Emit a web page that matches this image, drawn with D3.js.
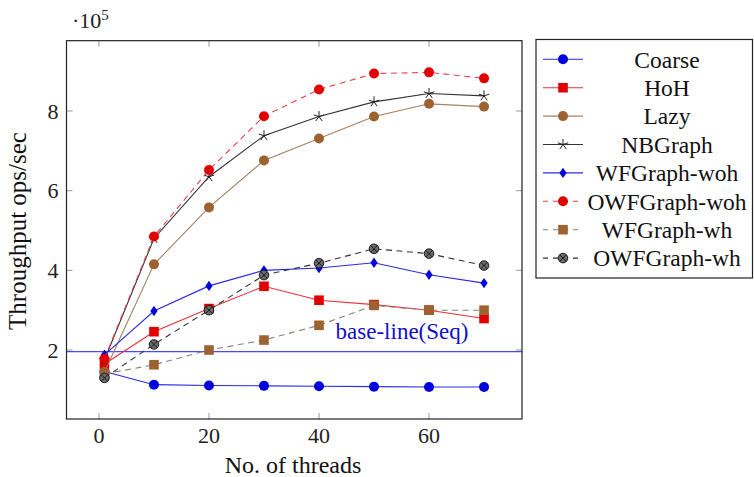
<!DOCTYPE html>
<html>
<head>
<meta charset="utf-8">
<script src="https://cdn.jsdelivr.net/npm/d3@7"></script>
<style>
  body { margin: 0; background: #fff; }
  svg { display: block; font-family: "Liberation Serif", "Times New Roman", serif; }
</style>
</head>
<body>
<svg id="chart" width="754" height="477"></svg>
<script>
// values in units of 1e5 ops/sec
var threads = [1, 10, 20, 30, 40, 50, 60, 70];
var coarse  = [1.46, 1.13, 1.11, 1.10, 1.09, 1.08, 1.07, 1.07];
var hoh     = [1.65, 2.46, 3.04, 3.60, 3.25, 3.14, 3.00, 2.79];
var lazy    = [1.45, 4.15, 5.58, 6.76, 7.31, 7.86, 8.18, 8.11];
var nbgraph = [1.75, 4.80, 6.35, 7.38, 7.86, 8.23, 8.44, 8.38];
var wfWoh   = [1.88, 2.98, 3.61, 4.00, 4.06, 4.19, 3.89, 3.68];
var owfWoh  = [1.78, 4.85, 6.52, 7.87, 8.54, 8.94, 8.97, 8.82];
var wfWh    = [1.40, 1.63, 2.00, 2.25, 2.62, 3.12, 3.00, 3.00];
var owfWh   = [1.30, 2.14, 3.00, 3.88, 4.18, 4.54, 4.42, 4.12];
var seqBaseline = 1.96;
var xTicks = [0, 20, 40, 60];
var yTicks = [2, 4, 6, 8];

(function() {
  var series = [
    { name: 'Coarse',       values: coarse,  color: '#0000dd', line: '#2a2ae8', mark: 'circle' },
    { name: 'HoH',          values: hoh,     color: '#e00000', line: '#e8303a', mark: 'square' },
    { name: 'Lazy',         values: lazy,    color: '#9c6230', line: '#a58260', mark: 'circle' },
    { name: 'NBGraph',      values: nbgraph, color: '#222222', line: '#333333', mark: 'star' },
    { name: 'WFGraph-woh',  values: wfWoh,   color: '#0000dd', line: '#2a2ae8', mark: 'diamond' },
    { name: 'OWFGraph-woh', values: owfWoh,  color: '#e00000', line: '#e8404e', mark: 'circle', dash: '6,4.5' },
    { name: 'WFGraph-wh',   values: wfWh,    color: '#9c6230', line: '#8a7f74', mark: 'square', dash: '6,4.5' },
    { name: 'OWFGraph-wh',  values: owfWh,   color: '#222222', line: '#333333', mark: 'otimes', dash: '6,4.5' }
  ];

  var svg = d3.select('#chart');
  var pLeft = 66.5, pRight = 522, pTop = 40.7, pBottom = 419;

  var x = d3.scaleLinear().domain([-5.9, 76.9]).range([pLeft, pRight]);
  var y = d3.scaleLinear().domain([0.268, 9.765]).range([pBottom, pTop]);

  // ticks (inward, mirrored)
  var tickColor = '#999';
  var g = svg.append('g');
  xTicks.forEach(function(t) {
    g.append('line').attr('x1', x(t)).attr('x2', x(t)).attr('y1', pBottom).attr('y2', pBottom - 6)
      .attr('stroke', tickColor);
    g.append('line').attr('x1', x(t)).attr('x2', x(t)).attr('y1', pTop).attr('y2', pTop + 6)
      .attr('stroke', tickColor);
    g.append('text').attr('x', x(t)).attr('y', pBottom + 24).attr('text-anchor', 'middle')
      .attr('font-size', 22).attr('fill', '#222').text(t);
  });
  yTicks.forEach(function(t) {
    g.append('line').attr('x1', pLeft).attr('x2', pLeft + 6).attr('y1', y(t)).attr('y2', y(t))
      .attr('stroke', tickColor);
    g.append('line').attr('x1', pRight).attr('x2', pRight - 6).attr('y1', y(t)).attr('y2', y(t))
      .attr('stroke', tickColor);
    g.append('text').attr('x', pLeft - 8).attr('y', y(t)).attr('dy', '0.35em').attr('text-anchor', 'end')
      .attr('font-size', 22).attr('fill', '#222').text(t);
  });

  // scale factor label
  var sf = svg.append('text').attr('x', 72).attr('y', 28).attr('font-size', 22).attr('fill', '#222');
  sf.append('tspan').text('\u00b710');
  sf.append('tspan').attr('font-size', 15).attr('dy', -8).text('5');

  // baseline
  svg.append('line')
    .attr('x1', pLeft).attr('x2', pRight)
    .attr('y1', y(seqBaseline)).attr('y2', y(seqBaseline))
    .attr('stroke', '#4848ff').attr('stroke-width', 1.3);
  svg.append('text').attr('x', 402).attr('y', 339).attr('text-anchor', 'middle')
    .attr('font-size', 23).attr('fill', '#1010cc').text('base-line(Seq)');

  function drawMark(sel, type, color) {
    if (type === 'circle') {
      sel.append('circle').attr('r', 5).attr('fill', color);
    } else if (type === 'square') {
      sel.append('rect').attr('x', -4.8).attr('y', -4.8).attr('width', 9.6).attr('height', 9.6).attr('fill', color);
    } else if (type === 'diamond') {
      sel.append('path').attr('d', 'M0,-5.2L3.6,0L0,5.2L-3.6,0Z').attr('fill', color);
    } else if (type === 'star') {
      var d = '';
      for (var i = 0; i < 5; i++) {
        var a = -Math.PI / 2 + i * 2 * Math.PI / 5;
        d += 'M0,0L' + (5.5 * Math.cos(a)).toFixed(2) + ',' + (5.5 * Math.sin(a)).toFixed(2);
      }
      sel.append('path').attr('d', d).attr('stroke', color).attr('stroke-width', 1).attr('fill', 'none');
    } else if (type === 'otimes') {
      sel.append('circle').attr('r', 4.8).attr('fill', '#6a6a6a').attr('stroke', '#111').attr('stroke-width', 0.9);
      sel.append('path').attr('d', 'M-3.3,-3.3L3.3,3.3M-3.3,3.3L3.3,-3.3').attr('stroke', '#111').attr('stroke-width', 0.9);
    }
  }

  var line = d3.line()
    .x(function(d) { return x(d[0]); })
    .y(function(d) { return y(d[1]); });

  series.forEach(function(s) {
    var pts = threads.map(function(t, i) { return [t, s.values[i]]; });
    var sg = svg.append('g');
    sg.append('path')
      .datum(pts)
      .attr('d', line)
      .attr('fill', 'none')
      .attr('stroke', s.line || s.color)
      .attr('stroke-width', 1.1)
      .attr('stroke-dasharray', s.dash || null);
    sg.selectAll('g.mark')
      .data(pts)
      .enter().append('g')
        .attr('class', 'mark')
        .attr('transform', function(d) { return 'translate(' + x(d[0]) + ',' + y(d[1]) + ')'; })
        .each(function() { drawMark(d3.select(this), s.mark, s.color); });
  });

  // frame
  svg.append('rect')
    .attr('x', pLeft).attr('y', pTop).attr('width', pRight - pLeft).attr('height', pBottom - pTop)
    .attr('fill', 'none').attr('stroke', '#222').attr('stroke-width', 1.2);

  // axis labels
  svg.append('text').attr('x', 293).attr('y', 473).attr('text-anchor', 'middle')
    .attr('font-size', 24).attr('fill', '#111').text('No. of threads');
  svg.append('text').attr('transform', 'translate(26,231) rotate(-90)').attr('text-anchor', 'middle')
    .attr('font-size', 25).attr('fill', '#111').text('Throughput ops/sec');

  // legend
  var lg = svg.append('g');
  lg.append('rect').attr('x', 536).attr('y', 39.5).attr('width', 216.5).attr('height', 238.5)
    .attr('fill', '#fff').attr('stroke', '#222').attr('stroke-width', 1.2);
  series.forEach(function(s, i) {
    var ly = 59.3 + i * 28.4;
    var row = lg.append('g');
    row.append('line').attr('x1', 543).attr('x2', 583).attr('y1', ly).attr('y2', ly)
      .attr('stroke', s.line || s.color).attr('stroke-width', 1.1).attr('stroke-dasharray', s.dash ? '5,5' : null);
    drawMark(row.append('g').attr('transform', 'translate(563,' + ly + ')'), s.mark, s.color);
    row.append('text').attr('x', 667).attr('y', ly).attr('dy', '0.35em').attr('text-anchor', 'middle')
      .attr('font-size', 23.5).attr('fill', '#111').text(s.name);
  });
})();
</script>
</body>
</html>
